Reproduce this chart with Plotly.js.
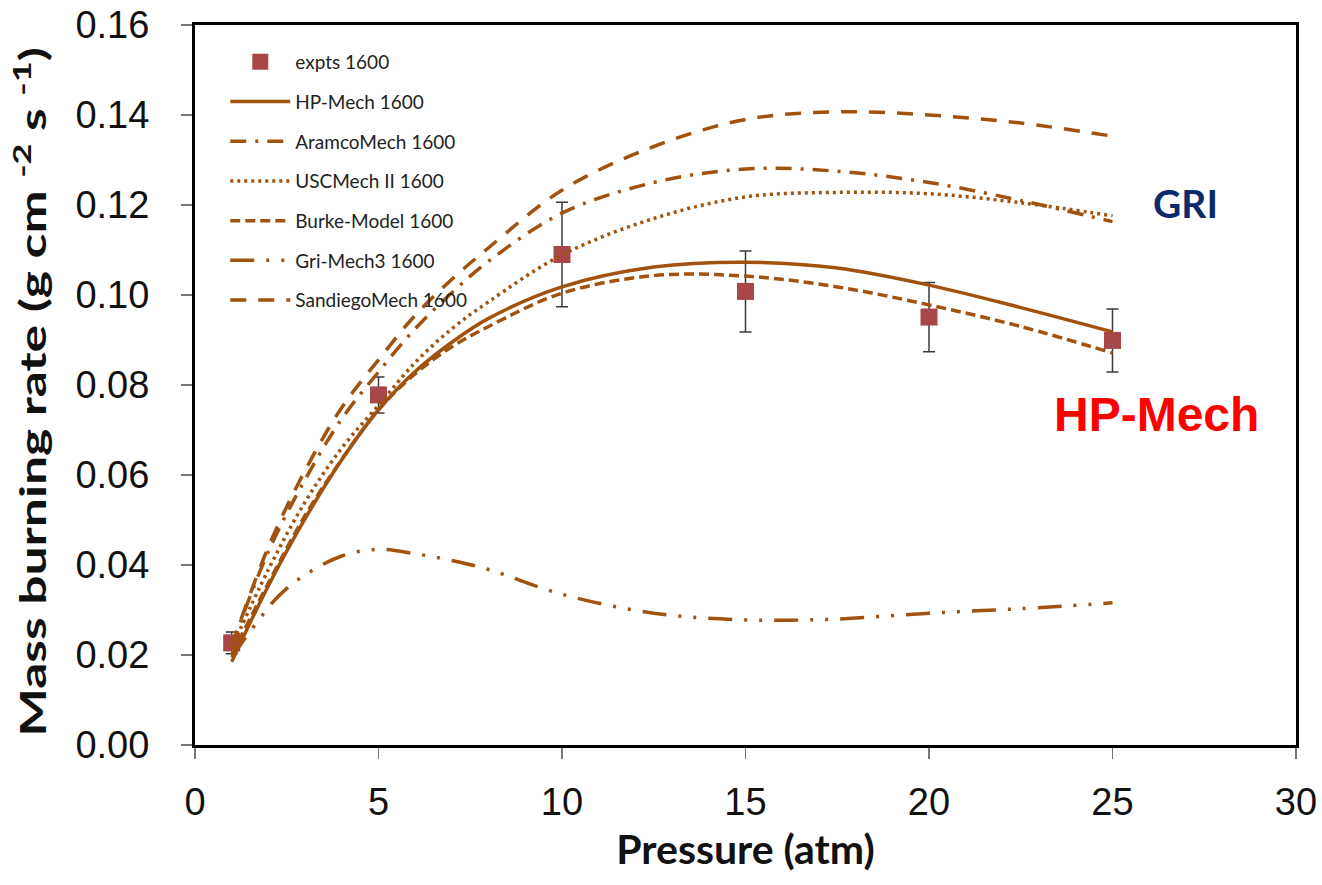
<!DOCTYPE html>
<html>
<head>
<meta charset="utf-8">
<script src="https://cdn.plot.ly/plotly-3.0.1.min.js"></script>
<style>html,body{margin:0;padding:0;background:#fff}#chart{width:1322px;height:885px}</style>
</head>
<body>
<div id="chart"></div>
<script>
// ---- data ----
const exptP = [1, 5, 10, 15, 20, 25];
const exptRate = [0.0227, 0.0778, 0.1090, 0.1008, 0.0951, 0.0899];
const exptErr = [0.0024, 0.0040, 0.0116, 0.0090, 0.0077, 0.0070];

const curveP = [1, 2, 3, 4, 5, 6, 7, 8, 10, 12.5, 15, 17.5, 20, 22.5, 25];
const hpMech = [0.0185, 0.0354, 0.0503, 0.0634, 0.0745, 0.0830, 0.0895, 0.0948, 0.1018, 0.1062, 0.1073, 0.1060, 0.1022, 0.0972, 0.0918];
const aramco = [0.0220, 0.0430, 0.0590, 0.0725, 0.0829, 0.0925, 0.1005, 0.1075, 0.1182, 0.1250, 0.1280, 0.1275, 0.1250, 0.1210, 0.1163];
const uscMech = [0.0215, 0.0390, 0.0540, 0.0660, 0.0755, 0.0850, 0.0925, 0.0985, 0.1089, 0.1170, 0.1218, 0.1228, 0.1225, 0.1205, 0.1176];
const burke = [0.0200, 0.0360, 0.0510, 0.0635, 0.0745, 0.0825, 0.0885, 0.0930, 0.1004, 0.1043, 0.1042, 0.1018, 0.0978, 0.0930, 0.0871];
const sandiego = [0.0220, 0.0440, 0.0610, 0.0750, 0.0856, 0.0955, 0.1035, 0.1105, 0.1233, 0.1330, 0.1390, 0.1407, 0.1400, 0.1382, 0.1353];
const griP = [1, 1.7, 2.3, 3, 4, 5, 6, 7, 8, 10, 12.5, 15, 17.5, 20, 22.5, 25];
const griMech = [0.0195, 0.0274, 0.0333, 0.0378, 0.0420, 0.0435, 0.0425, 0.0410, 0.0390, 0.0335, 0.0293, 0.0278, 0.0280, 0.0293, 0.0303, 0.0316];

const seriesNames = ['expts 1600', 'HP-Mech 1600', 'AramcoMech 1600', 'USCMech II 1600', 'Burke-Model 1600', 'Gri-Mech3 1600', 'SandiegoMech 1600'];
const xTicks = [0, 5, 10, 15, 20, 25, 30];
const yTicks = [0, 0.02, 0.04, 0.06, 0.08, 0.10, 0.12, 0.14, 0.16];

// ---- styling ----
const brown = '#A0520E';
const lw = 3.5;
function curve(x, y, name, dash, grp) {
  return {x: x, y: y, name: name, mode: 'lines', type: 'scatter', legendgroup: grp,
    line: {color: brown, width: lw, dash: dash, shape: 'spline', smoothing: 1}};
}

const traces = [
  {x: exptP, y: exptRate, name: seriesNames[0], mode: 'markers', type: 'scatter', legendgroup: 'g0',
   marker: {symbol: 'square', size: 17, color: '#A84747'},
   error_y: {type: 'data', array: exptErr, visible: true, color: '#3a3a3a', thickness: 1.5, width: 6}},
  curve(curveP, hpMech, seriesNames[1], 'solid', 'g1'),
  curve(curveP, aramco, seriesNames[2], '16px,9px,3px,9px', 'g2'),
  curve(curveP, uscMech, seriesNames[3], '3px,4px', 'g3'),
  curve(curveP, burke, seriesNames[4], '10px,5px', 'g4'),
  curve(griP, griMech, seriesNames[5], '24px,12px,3px,12px,3px,12px', 'g5'),
  curve(curveP, sandiego, seriesNames[6], '16px,12px', 'g6')
];

const axisCommon = {
  showline: true, linecolor: '#000', linewidth: 3, mirror: true,
  showgrid: false, zeroline: false,
  ticks: 'outside', ticklen: 11, tickwidth: 1.5, tickcolor: '#777',
  tickfont: {family: 'Liberation Sans, Arial, sans-serif', size: 38, color: '#111'}
};

const layout = {
  width: 1322, height: 885,
  margin: {l: 195, r: 26, t: 25, b: 140},
  paper_bgcolor: '#fff', plot_bgcolor: '#fff',
  showlegend: true,
  legend: {x: 0.0275, y: 0.975, xanchor: 'left', yanchor: 'top', bgcolor: 'rgba(0,0,0,0)',
    font: {family: 'Lato, Liberation Sans, sans-serif', size: 19, color: '#222'},
    tracegroupgap: 12, itemwidth: 60},
  xaxis: Object.assign({}, axisCommon, {
    range: [0, 30], tickvals: xTicks, ticktext: xTicks.map(String), ticklabelstandoff: 10,
    title: {text: 'Pressure (atm)', font: {family: 'Lato, Liberation Sans, sans-serif', size: 41, color: '#111', weight: 'bold'}, standoff: 14}
  }),
  yaxis: Object.assign({}, axisCommon, {
    range: [0, 0.16], tickvals: yTicks, ticktext: yTicks.map(v => v.toFixed(2)), ticklabelstandoff: 24,
    title: {text: 'Mass burning rate (g cm <sup>-2</sup> s <sup>-1</sup>)', font: {family: 'Lato, Liberation Sans, sans-serif', size: 36, color: '#111', weight: 'bold'}, standoff: 20}
  }),
  annotations: [
    {x: 27.0, y: 0.1205, xref: 'x', yref: 'y', text: 'GRI', showarrow: false,
     font: {family: 'Lato, Liberation Sans, sans-serif', size: 39, color: '#0B2A6B', weight: 'bold'}},
    {x: 26.2, y: 0.0735, xref: 'x', yref: 'y', text: 'HP-Mech', showarrow: false,
     font: {family: 'Liberation Sans, Arial, sans-serif', size: 48, color: '#FF0000', weight: 'bold'}}
  ]
};

Plotly.newPlot('chart', traces, layout, {displayModeBar: false, staticPlot: true}).then(function () {
  // the reference's y title is a condensed font drawn long; stretch it along its length
  const t = document.querySelector('.g-ytitle text');
  if (t) {
    const bb = t.getBBox();
    const cx = bb.x + bb.width / 2, cy = bb.y + bb.height / 2;
    const target = 690;
    const s = target / bb.width;
    const old = t.getAttribute('transform') || '';
    // bbox is in pre-rotation local coordinates; stretch along local x about the centre,
    // nudging it a little down the page and to the right
    t.setAttribute('transform', old + ' translate(' + (cx - 7) + ',' + (cy + 2) + ') scale(' + s + ',1) translate(' + (-cx) + ',' + (-cy) + ')');
  }
});
</script>
</body>
</html>
